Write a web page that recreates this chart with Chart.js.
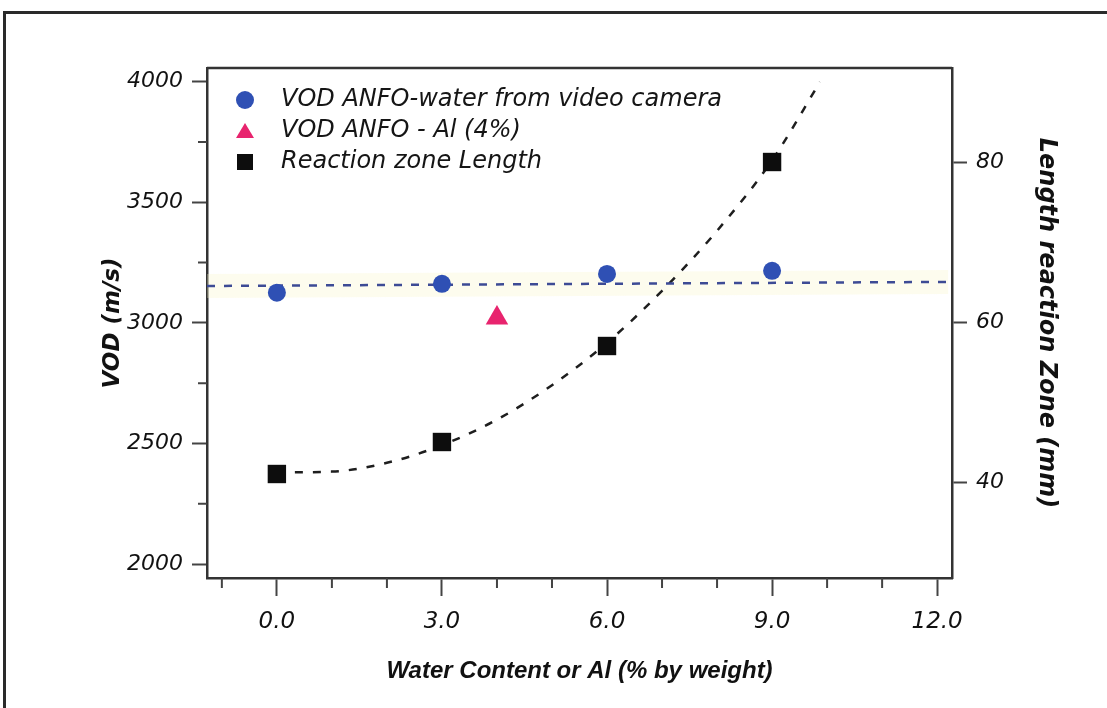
<!DOCTYPE html>
<html><head><meta charset="utf-8">
<script src="https://cdn.jsdelivr.net/npm/chart.js@4.4.0/dist/chart.umd.min.js"></script>
<style>
html,body{margin:0;padding:0;background:#fff;}
#wrap{position:relative;width:1107px;height:708px;overflow:hidden;background:#fff;}
#frame{position:absolute;left:3px;top:11px;width:1130px;height:730px;border:3px solid #2a2a2a;box-sizing:border-box;}
#c{position:absolute;left:0;top:0;}
</style></head><body>
<div id="wrap"><div id="frame"></div><canvas id="c" width="1107" height="708"></canvas></div>
<script>
// ---- data ----
const waterContent = [0, 3, 6, 9];
const vodWater = [3125, 3162, 3203, 3216];
const alContent = [4];
const vodAl = [3020];
const reactionLength = [41, 45, 57, 80];
const vodTrendX = [-1.27, 12.2];
const vodTrendY = [3153, 3170];
const lengthFitX = [0, 1, 2, 3, 4, 5, 6, 7, 8, 9, 9.87];
const lengthFitY = [41.2, 41.3, 42.4, 44.6, 47.8, 52.1, 57.4, 63.9, 71.4, 80.2, 90.0];
const xTicks = [0, 3, 6, 9, 12];
const xMinorTicks = [-1, 1, 2, 4, 5, 7, 8, 10, 11];
const vodTicks = [2000, 2500, 3000, 3500, 4000];
const vodMinorTicks = [2250, 2750, 3250, 3750];
const lengthTicks = [40, 60, 80];
const seriesLabels = ['VOD ANFO-water from video camera', 'VOD ANFO - Al (4%)', 'Reaction zone Length'];
const xTitle = 'Water Content or Al (% by weight)';
const yTitle = 'VOD (m/s)';
const y2Title = 'Length reaction Zone (mm)';

const pts = (xs, ys) => xs.map((x, i) => ({x: x, y: ys[i]}));
const FONT = '"DejaVu Sans", sans-serif';
const FONT2 = '"Liberation Sans", Arial, sans-serif';
const BLUE = '#2f50b4', PINK = '#e8246e', BLACK = '#0d0d0d';

const minorTicksPlugin = {
  id: 'minorTicks',
  afterDraw(chart) {
    const ctx = chart.ctx, a = chart.chartArea;
    const x = chart.scales.x, y = chart.scales.y;
    ctx.save();
    ctx.strokeStyle = '#444';
    ctx.lineWidth = 2;
    ctx.beginPath();
    xMinorTicks.forEach(v => { const p = x.getPixelForValue(v); ctx.moveTo(p, a.bottom); ctx.lineTo(p, a.bottom + 10); });
    vodMinorTicks.forEach(v => { const p = y.getPixelForValue(v); ctx.moveTo(a.left, p); ctx.lineTo(a.left - 9, p); });
    ctx.stroke();
    ctx.strokeStyle = '#333';
    ctx.lineWidth = 2.5;
    ctx.beginPath(); ctx.moveTo(a.left, a.top); ctx.lineTo(a.right, a.top); ctx.stroke();
    ctx.restore();
  }
};

const legendPlugin = {
  id: 'insideLegend',
  afterDraw(chart) {
    const ctx = chart.ctx, a = chart.chartArea;
    const mx = a.left + 38, tx = a.left + 74, y0 = a.top + 32, dy = 31;
    ctx.save();
    ctx.font = 'italic 24px ' + FONT;
    ctx.textBaseline = 'middle';
    seriesLabels.forEach((lab, i) => {
      const yy = y0 + i * dy;
      if (i === 0) { ctx.fillStyle = BLUE; ctx.beginPath(); ctx.arc(mx, yy, 9, 0, Math.PI * 2); ctx.fill(); }
      if (i === 1) { ctx.fillStyle = PINK; ctx.beginPath(); ctx.moveTo(mx, yy - 8); ctx.lineTo(mx + 9, yy + 7); ctx.lineTo(mx - 9, yy + 7); ctx.closePath(); ctx.fill(); }
      if (i === 2) { ctx.fillStyle = BLACK; ctx.fillRect(mx - 8, yy - 8, 16, 16); }
      ctx.fillStyle = '#151515';
      ctx.fillText(lab, tx, yy);
    });
    ctx.restore();
  }
};

new Chart(document.getElementById('c'), {
  type: 'scatter',
  data: {
    datasets: [
      {label: seriesLabels[0], data: pts(waterContent, vodWater), yAxisID: 'y', pointStyle: 'circle', pointRadius: 9, backgroundColor: BLUE, borderWidth: 0, order: 0},
      {label: seriesLabels[1], data: pts(alContent, vodAl), yAxisID: 'y', pointStyle: 'triangle', pointRadius: 13, backgroundColor: PINK, borderWidth: 0, order: 0},
      {label: seriesLabels[2], data: pts(waterContent, reactionLength), yAxisID: 'y2', pointStyle: 'rect', pointRadius: 13, backgroundColor: BLACK, borderWidth: 0, order: 0},
      {label: 'vod trend', data: pts(vodTrendX, vodTrendY), yAxisID: 'y', showLine: true, pointRadius: 0, borderColor: '#3d4b95', borderWidth: 2.5, borderDash: [8, 9], order: 1},
      {label: 'length fit', data: pts(lengthFitX, lengthFitY), yAxisID: 'y2', showLine: true, pointRadius: 0, borderColor: '#1e1e1e', borderWidth: 2.5, borderDash: [8, 10], cubicInterpolationMode: 'monotone', order: 1},
      {label: 'glow', data: pts(vodTrendX, vodTrendY), yAxisID: 'y', showLine: true, pointRadius: 0, borderColor: 'rgba(250,245,200,0.3)', borderWidth: 24, order: 2}
    ]
  },
  options: {
    responsive: false,
    animation: false,
    events: [],
    layout: {padding: {top: 68, left: 0, right: 0, bottom: 0}},
    plugins: {legend: {display: false}, tooltip: {enabled: false}},
    scales: {
      x: {
        type: 'linear', position: 'bottom', min: -1.27, max: 12.27,
        afterBuildTicks: s => { s.ticks = xTicks.map(v => ({value: v})); },
        afterFit: s => { s.height = 130; },
        ticks: {autoSkip: false, maxRotation: 0, padding: 12, color: '#111', font: {family: FONT, size: 23, style: 'italic'}, callback: v => Number(v).toFixed(1)},
        grid: {drawOnChartArea: false, drawTicks: true, tickLength: 18, tickWidth: 2, tickColor: '#444'},
        border: {display: true, color: '#333', width: 2.5},
        title: {display: true, text: xTitle, color: '#111', font: {family: FONT2, size: 24, style: 'italic', weight: 'bold'}, padding: {top: 0, bottom: 22}}
      },
      y: {
        type: 'linear', position: 'left', min: 1942, max: 4057,
        afterBuildTicks: s => { s.ticks = vodTicks.map(v => ({value: v})); },
        afterFit: s => { s.width = 207; },
        ticks: {padding: 9, color: '#111', font: {family: FONT, size: 22, style: 'italic'}, callback: v => String(v)},
        grid: {drawOnChartArea: false, drawTicks: true, tickLength: 15, tickWidth: 2, tickColor: '#444'},
        border: {display: true, color: '#333', width: 2.5},
        title: {display: true, text: yTitle, color: '#111', font: {family: FONT, size: 23, style: 'italic', weight: 'bold'}, padding: {top: 99, bottom: 0}}
      },
      y2: {
        type: 'linear', position: 'right', min: 28, max: 91.75,
        afterBuildTicks: s => { s.ticks = lengthTicks.map(v => ({value: v})); },
        afterFit: s => { s.width = 155; },
        ticks: {padding: 9, color: '#111', font: {family: FONT, size: 22, style: 'italic'}, callback: v => String(v)},
        grid: {drawOnChartArea: false, drawTicks: true, tickLength: 15, tickWidth: 2, tickColor: '#444'},
        border: {display: true, color: '#333', width: 2.5},
        title: {display: true, text: y2Title, color: '#111', font: {family: FONT, size: 24, style: 'italic', weight: 'bold'}, padding: {top: 46, bottom: 0}}
      }
    }
  },
  plugins: [minorTicksPlugin, legendPlugin]
});
</script>
</body></html>
